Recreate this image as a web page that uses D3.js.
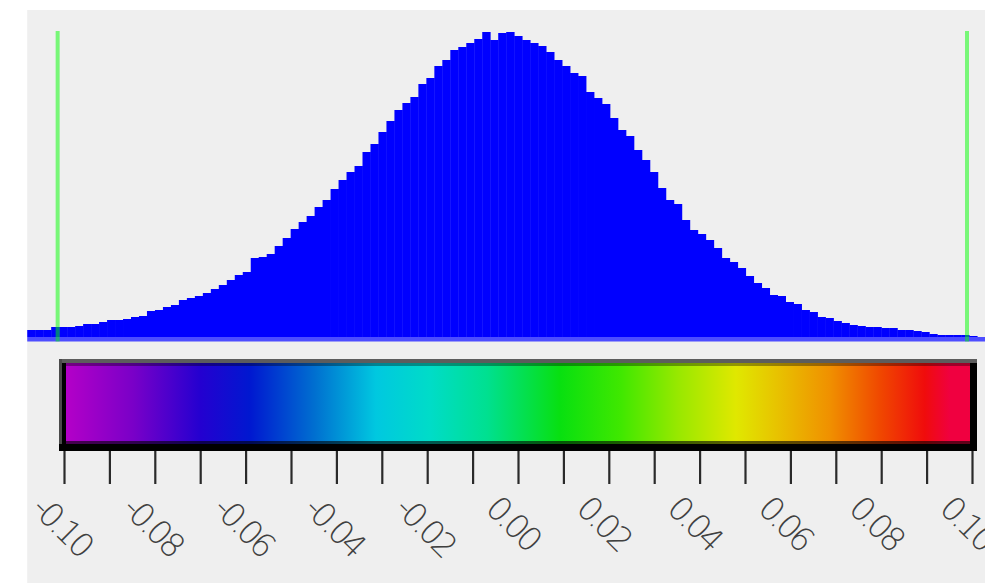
<!DOCTYPE html>
<html>
<head>
<meta charset="utf-8">
<script src="https://cdn.jsdelivr.net/npm/d3@7"></script>
<style>
  body { margin: 0; background: #fff; }
  svg { display: block; }
</style>
</head>
<body>
<svg width="985" height="583"></svg>
<script>
// histogram counts, one per bin, left to right
var counts = [70, 70, 70, 100, 100, 100, 110, 130, 130, 150,
    170, 170, 180, 200, 210, 260, 270, 300, 320, 370,
    390, 410, 440, 480, 520, 570, 620, 650, 790, 800,
    830, 910, 990, 1080, 1150, 1210, 1300, 1370, 1480, 1570,
    1650, 1710, 1850, 1930, 2050, 2160, 2270, 2340, 2400, 2530,
    2590, 2710, 2770, 2870, 2900, 2940, 2980, 3050, 2970, 3040,
    3050, 3010, 2970, 2940, 2910, 2850, 2770, 2710, 2640, 2610,
    2450, 2390, 2330, 2190, 2070, 2010, 1870, 1770, 1650, 1490,
    1370, 1330, 1170, 1070, 1030, 970, 890, 790, 750, 690,
    610, 540, 490, 420, 410, 350, 330, 270, 250, 200,
    190, 160, 140, 120, 110, 100, 100, 90, 90, 70,
    70, 60, 50, 30, 20, 20, 20, 20, 10, 0];
var histRange = [-0.1081, 0.1029];

// threshold markers (green lines)
var markers = [-0.1014, 0.0989];

// colour bar
var barDomain = [-0.10, 0.10];
var stopValues = [-0.0996, -0.0848, -0.070, -0.059, -0.0447, -0.0313, -0.0194, -0.0068,
    0.0093, 0.0227, 0.0352, 0.048, 0.0577, 0.0687, 0.0797, 0.0896, 0.0952, 0.0996];
var stopColors = ["#b400c8", "#7a00c8", "#2400d0", "#0018d0", "#0070d0", "#00c8e0", "#00dcc8", "#00e090",
    "#08e010", "#40e800", "#98e800", "#e0e800", "#e8c000", "#f09000", "#f04800", "#f00c0c", "#f00040", "#f00040"];

// axis
var tickValues = d3.range(21).map(function(i) { return -0.10 + i * 0.01; });
var labelValues = [-0.10, -0.08, -0.06, -0.04, -0.02, 0.00, 0.02, 0.04, 0.06, 0.08, 0.10];
var labelText = ["-0.10", "-0.08", "-0.06", "-0.04", "-0.02", "0.00", "0.02", "0.04", "0.06", "0.08", "0.10"];

var svg = d3.select("svg"),
    W = +svg.attr("width"),
    H = +svg.attr("height");

var x = d3.scaleLinear().domain(barDomain).range([64, 972]);
var y = d3.scaleLinear().domain([0, 3060]).range([337, 31]);

// panel background
svg.append("rect")
    .attr("x", x(histRange[0])).attr("y", 10)
    .attr("width", W - x(histRange[0])).attr("height", H - 10)
    .attr("fill", "#efefef");

// histogram
var binW = (histRange[1] - histRange[0]) / counts.length;
var bins = counts.map(function(c, i) {
    return {x0: histRange[0] + i * binW, x1: histRange[0] + (i + 1) * binW, n: c};
});

var hist = svg.append("g").attr("class", "hist");
hist.selectAll("rect")
    .data(bins)
    .enter().append("rect")
    .attr("x", function(d) { return x(d.x0); })
    .attr("y", function(d) { return y(d.n); })
    .attr("width", function(d) { return x(d.x1) - x(d.x0) + 0.4; })
    .attr("height", function(d) { return y(0) - y(d.n); })
    .attr("fill", "#0000ff");

// baseline strip
hist.append("rect")
    .attr("x", x(histRange[0])).attr("y", y(0))
    .attr("width", x(histRange[1]) - x(histRange[0])).attr("height", 4.5)
    .attr("fill", "#4d4dff");

// green markers
svg.selectAll(".marker")
    .data(markers)
    .enter().append("line")
    .attr("class", "marker")
    .attr("x1", function(d) { return x(d); })
    .attr("x2", function(d) { return x(d); })
    .attr("y1", y.range()[1])
    .attr("y2", y(0) + 4.5)
    .attr("stroke", "#00ff00")
    .attr("stroke-opacity", 0.5)
    .attr("stroke-width", 4);

// colour bar
var grad = svg.append("defs").append("linearGradient")
    .attr("id", "cbar")
    .attr("gradientUnits", "userSpaceOnUse")
    .attr("x1", x(barDomain[0])).attr("x2", x(barDomain[1]))
    .attr("y1", 0).attr("y2", 0);

grad.selectAll("stop")
    .data(stopValues)
    .enter().append("stop")
    .attr("offset", function(d) { return (x(d) - x(barDomain[0])) / (x(barDomain[1]) - x(barDomain[0])); })
    .attr("stop-color", function(d, i) { return stopColors[i]; });

var cb = svg.append("g").attr("class", "colorbar");
var cbTop = 359, cbBottom = 451;

cb.append("rect")
    .attr("x", x(barDomain[0]) - 5).attr("y", cbTop)
    .attr("width", x(barDomain[1]) - x(barDomain[0]) + 10).attr("height", cbBottom - cbTop)
    .attr("fill", "#000");
cb.append("rect")
    .attr("x", x(barDomain[0]) - 5).attr("y", cbTop)
    .attr("width", x(barDomain[1]) - x(barDomain[0]) + 10).attr("height", 4)
    .attr("fill", "#5c5c5c");
cb.append("rect")
    .attr("x", x(barDomain[0]) - 5).attr("y", cbTop)
    .attr("width", 3).attr("height", cbBottom - cbTop - 7)
    .attr("fill", "#4a4a4a");
cb.append("rect")
    .attr("x", x(barDomain[0]) + 2).attr("y", cbTop + 4)
    .attr("width", x(barDomain[1]) - x(barDomain[0]) - 4).attr("height", cbBottom - cbTop - 11)
    .attr("fill", "url(#cbar)");
// bevel shading
cb.append("rect")
    .attr("x", x(barDomain[0]) + 2).attr("y", cbTop + 4)
    .attr("width", x(barDomain[1]) - x(barDomain[0]) - 4).attr("height", 3)
    .attr("fill", "#000").attr("fill-opacity", 0.35);
cb.append("rect")
    .attr("x", x(barDomain[0]) + 2).attr("y", cbBottom - 10)
    .attr("width", x(barDomain[1]) - x(barDomain[0]) - 4).attr("height", 3)
    .attr("fill", "#000").attr("fill-opacity", 0.6);

// ticks
var ax = svg.append("g")
    .attr("class", "axis")
    .attr("transform", "translate(0," + cbBottom + ")")
    .call(d3.axisBottom(x).tickValues(tickValues).tickSize(33).tickFormat(""));
ax.select(".domain").remove();
ax.selectAll(".tick line").attr("stroke", "#2a2a2a").attr("stroke-width", 2.2);

// rotated labels
svg.selectAll(".lbl")
    .data(labelValues)
    .enter().append("text")
    .attr("class", "lbl")
    .attr("transform", function(d) { return "translate(" + (x(d) - 34) + ",510) rotate(45)"; })
    .attr("font-family", "DejaVu Sans")
    .attr("font-weight", 200)
    .attr("font-size", 33)
    .attr("letter-spacing", -3.5)
    .attr("fill", "#404040")
    .attr("text-anchor", "start")
    .text(function(d, i) { return labelText[i]; });
</script>
</body>
</html>
